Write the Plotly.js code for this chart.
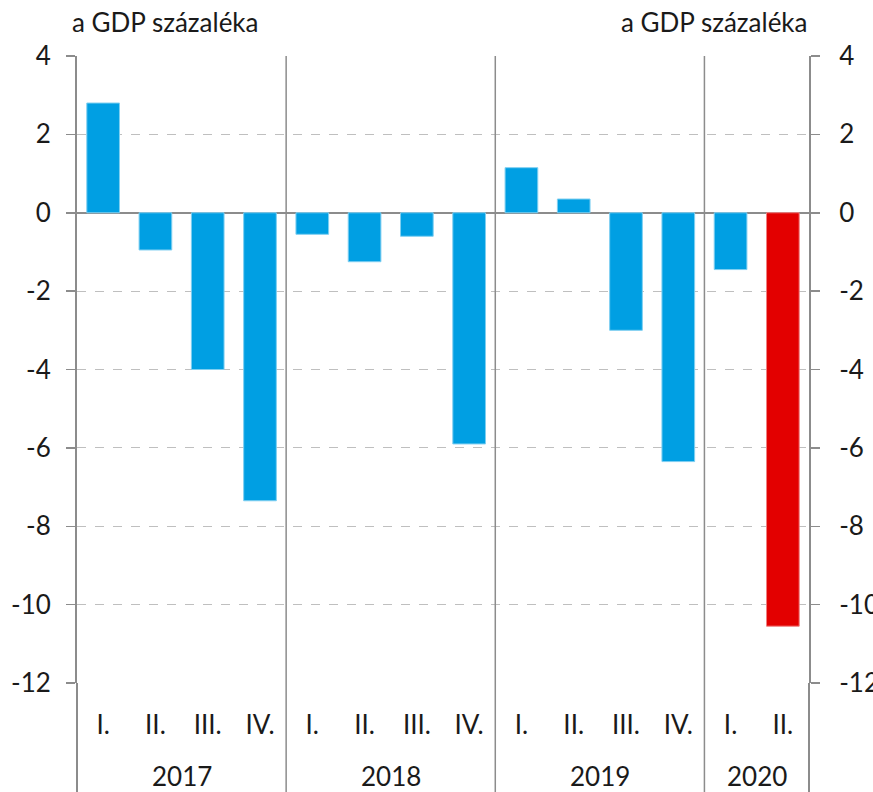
<!DOCTYPE html>
<html>
<head>
<meta charset="utf-8">
<script src="https://cdn.plot.ly/plotly-3.0.1.min.js"></script>
<style>
  body { margin: 0; background: #fff; }
  #chart { width: 873px; height: 792px; }
</style>
</head>
<body>
<div id="chart"></div>
<script>
// negyedéves adatok, a GDP százalékában
var years = ["2017", "2017", "2017", "2017", "2018", "2018", "2018", "2018",
             "2019", "2019", "2019", "2019", "2020", "2020"];
var quarters = ["I.", "II.", "III.", "IV.", "I.", "II.", "III.", "IV.",
                "I.", "II.", "III.", "IV.", "I.", "II."];
var values = [2.8, -0.95, -4.0, -7.35, -0.55, -1.25, -0.6, -5.9,
              1.15, 0.35, -3.0, -6.35, -1.45, -10.55];
var yTicks = [4, 2, 0, -2, -4, -6, -8, -10, -12];
var unitLabel = "a GDP százaléka";

var blue = "#009fe3";
var red = "#e30000";
var n = values.length;
var idx = values.map(function (v, i) { return i; });
var barColors = values.map(function (v, i) { return i == n - 1 ? red : blue; });
var lineColors = values.map(function (v, i) { return i == n - 1 ? "#f08080" : "#7fcff1"; });

var font = "Lato, 'Open Sans', sans-serif";
var fsize = 26;
var txt = "#1a1a1a";
var grey = "#8c8c8c";
var plotH = 792 - 56 - 109;
var bottomY = -(109 / plotH);

var bars = {
    x: idx,
    y: values,
    type: "bar",
    marker: { color: barColors, line: { color: lineColors, width: 1 } },
    hoverinfo: "y"
};
// láthatatlan másolat, hogy a jobb oldali tengely is megjelenjen
var ghost = {
    x: idx,
    y: values,
    yaxis: "y2",
    type: "scatter",
    mode: "markers",
    marker: { opacity: 0 },
    hoverinfo: "skip"
};

// elválasztók: tengelyek széle és az évek határa, le a kép aljáig
var shapes = [];
var annotations = [];
var start = 0;
for (var i = 0; i <= n; i++) {
    if (i == 0 || i == n || years[i] != years[i - 1]) {
        var inner = i > 0 && i < n;
        shapes.push({
            type: "line", xref: "paper", yref: "paper",
            x0: i / n, x1: i / n, y0: bottomY, y1: inner ? 1 : 0,
            line: { color: grey, width: inner ? 1.5 : 2 }
        });
        if (i > 0) {
            annotations.push({
                text: years[i - 1], xref: "x", yref: "paper",
                x: (start + i - 1) / 2, y: 0, yshift: -93, yanchor: "middle",
                showarrow: false, font: { family: font, size: fsize, color: txt }
            });
            start = i;
        }
    }
}
annotations.push(
    { text: unitLabel, xref: "paper", yref: "paper", x: -0.01, y: 1, xanchor: "left", yanchor: "middle",
      yshift: 34, showarrow: false, font: { family: font, size: fsize, color: txt } },
    { text: unitLabel, xref: "paper", yref: "paper", x: 1.002, y: 1, xanchor: "right", yanchor: "middle",
      yshift: 34, showarrow: false, font: { family: font, size: fsize, color: txt } }
);

var yAxisBase = {
    range: [-12, 4],
    tickvals: yTicks,
    ticktext: yTicks.map(String),
    ticks: "outside",
    ticklen: 9,
    tickcolor: grey,
    tickwidth: 1.5,
    showline: true,
    linecolor: grey,
    linewidth: 2,
    showgrid: true,
    gridcolor: "#bfbfbf",
    griddash: "dash",
    gridwidth: 1,
    zeroline: true,
    zerolinecolor: grey,
    zerolinewidth: 2.5,
    tickfont: { family: font, size: fsize, color: txt },
    fixedrange: true
};

var layout = {
    width: 873,
    height: 792,
    margin: { l: 77, r: 64, t: 56, b: 109 },
    paper_bgcolor: "#fff",
    plot_bgcolor: "#fff",
    showlegend: false,
    bargap: 0.375,
    font: { family: font, size: fsize, color: txt },
    xaxis: {
        range: [-0.5, n - 0.5],
        tickvals: idx,
        ticktext: quarters,
        showline: false,
        showgrid: false,
        zeroline: false,
        ticks: "",
        ticklabelstandoff: 24,
        tickfont: { family: font, size: fsize, color: txt },
        fixedrange: true
    },
    yaxis: Object.assign({}, yAxisBase, { side: "left", ticklabelstandoff: 10 }),
    yaxis2: Object.assign({}, yAxisBase, { side: "right", overlaying: "y", anchor: "x",
                                           showgrid: false, zeroline: false, ticklabelstandoff: 14 }),
    shapes: shapes,
    annotations: annotations
};

Plotly.newPlot("chart", [bars, ghost], layout, { displayModeBar: false, staticPlot: true });
</script>
</body>
</html>
